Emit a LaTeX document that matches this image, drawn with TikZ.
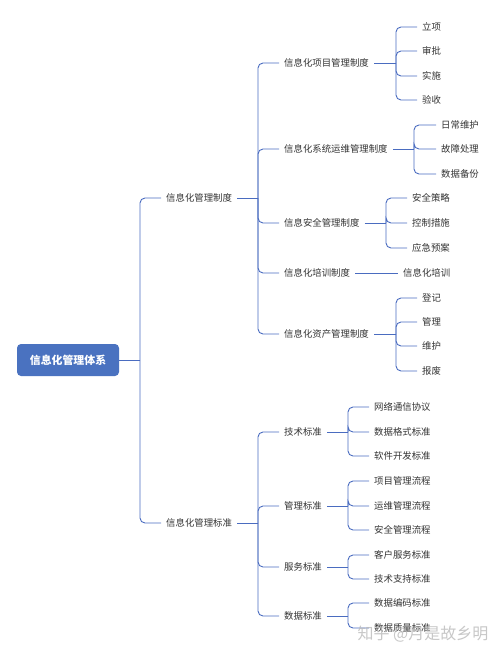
\documentclass[tikz,border=0pt]{standalone}
\usepackage{fontspec}
\setmainfont{Noto Sans CJK SC}
\definecolor{linkblue}{HTML}{4A6CC0}
\definecolor{rootblue}{HTML}{4A72C0}
\definecolor{txtgray}{HTML}{333333}

\begin{document}
\begin{tikzpicture}[x=1pt,y=-1pt,
  every node/.style={font=\fontsize{9.4}{11}\selectfont, text=txtgray, inner xsep=5pt, inner ysep=3pt},
  leaf/.style={anchor=west},
  link/.style={linkblue, line width=0.9pt, rounded corners=5pt}]
\useasboundingbox (0,0) rectangle (500,654);

% bars
\coordinate (b0) at (140,0);
\coordinate (b1) at (258,0);
\coordinate (bxm) at (396,0);
\coordinate (bxt) at (414,0);
\coordinate (baq) at (386,0);
\coordinate (bzc) at (396,0);
\coordinate (bbz) at (348,0);

% root
\node[fill=rootblue, rounded corners=4pt, minimum width=102pt, minimum height=32pt,
  text=white, font=\fontsize{10.9}{12}\selectfont\bfseries] (root) at (68,360) {信息化管理体系};

% level 1
\node[leaf] (zd) at (161,198) {信息化管理制度};
\node[leaf] (bz) at (161,523) {信息化管理标准};
\draw[link] (root.east) -- (root.east -| b0);
\foreach \n in {zd,bz}
  \draw[link] (root.east -| b0) |- (\n.west);

% level 2
\draw[link] (zd.east) -- (zd.east -| b1);
\foreach \n/\t/\y in {xm/信息化项目管理制度/63, xt/信息化系统运维管理制度/149,
    aq/信息安全管理制度/223, px/信息化培训制度/273, zc/信息化资产管理制度/334} {
  \node[leaf] (\n) at (279,\y) {\t};
  \draw[link] (zd.east -| b1) |- (\n.west);
}
\draw[link] (bz.east) -- (bz.east -| b1);
\foreach \n/\t/\y in {js/技术标准/432, gl/管理标准/506, fw/服务标准/567, sj/数据标准/616} {
  \node[leaf] (\n) at (279,\y) {\t};
  \draw[link] (bz.east -| b1) |- (\n.west);
}

% level 3
\draw[link] (xm.east) -- (xm.east -| bxm);
\foreach \n/\t/\y in {xm1/立项/27, xm2/审批/51, xm3/实施/76, xm4/验收/100} {
  \node[leaf] (\n) at (417,\y) {\t};
  \draw[link] (xm.east -| bxm) |- (\n.west);
}
\draw[link] (xt.east) -- (xt.east -| bxt);
\foreach \n/\t/\y in {xt1/日常维护/125, xt2/故障处理/149, xt3/数据备份/174} {
  \node[leaf] (\n) at (436,\y) {\t};
  \draw[link] (xt.east -| bxt) |- (\n.west);
}
\draw[link] (aq.east) -- (aq.east -| baq);
\foreach \n/\t/\y in {aq1/安全策略/198, aq2/控制措施/223, aq3/应急预案/248} {
  \node[leaf] (\n) at (407,\y) {\t};
  \draw[link] (aq.east -| baq) |- (\n.west);
}
\node[leaf] (px1) at (398,273) {信息化培训};
\draw[link] (px.east) -- (px1.west);
\draw[link] (zc.east) -- (zc.east -| bzc);
\foreach \n/\t/\y in {zc1/登记/298, zc2/管理/322, zc3/维护/346, zc4/报废/371} {
  \node[leaf] (\n) at (417,\y) {\t};
  \draw[link] (zc.east -| bzc) |- (\n.west);
}
\draw[link] (js.east) -- (js.east -| bbz);
\foreach \n/\t/\y in {js1/网络通信协议/407, js2/数据格式标准/432, js3/软件开发标准/456} {
  \node[leaf] (\n) at (369,\y) {\t};
  \draw[link] (js.east -| bbz) |- (\n.west);
}
\draw[link] (gl.east) -- (gl.east -| bbz);
\foreach \n/\t/\y in {gl1/项目管理流程/481, gl2/运维管理流程/506, gl3/安全管理流程/530} {
  \node[leaf] (\n) at (369,\y) {\t};
  \draw[link] (gl.east -| bbz) |- (\n.west);
}
\draw[link] (fw.east) -- (fw.east -| bbz);
\foreach \n/\t/\y in {fw1/客户服务标准/555, fw2/技术支持标准/579} {
  \node[leaf] (\n) at (369,\y) {\t};
  \draw[link] (fw.east -| bbz) |- (\n.west);
}
\draw[link] (sj.east) -- (sj.east -| bbz);
\foreach \n/\t/\y in {sj1/数据编码标准/603, sj2/数据质量标准/628} {
  \node[leaf] (\n) at (369,\y) {\t};
  \draw[link] (sj.east -| bbz) |- (\n.west);
}

% watermark
\node[text=gray!55, opacity=.8, font=\fontsize{16}{18}\selectfont] (wm) at (423,634) {知乎 @月是故乡明};
\end{tikzpicture}
\end{document}
